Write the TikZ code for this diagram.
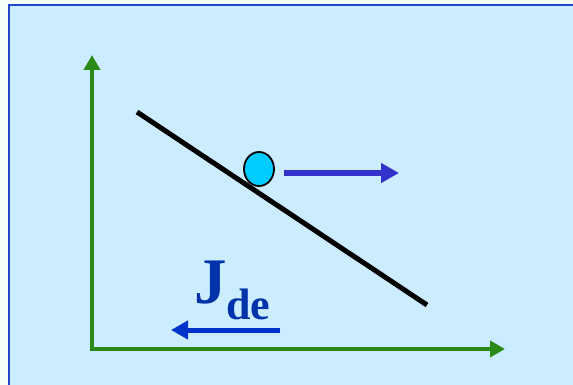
\documentclass[tikz,border=0pt]{standalone}
\usepackage{fontspec}
\setmainfont{Liberation Serif}
\usetikzlibrary{arrows.meta}
\definecolor{outerbg}{RGB}{244,255,246}
\definecolor{panel}{RGB}{204,236,255}
\definecolor{frame}{RGB}{34,68,204}
\definecolor{axisgreen}{RGB}{42,138,22}
\definecolor{ballcyan}{RGB}{0,204,255}
\definecolor{velblue}{RGB}{51,51,204}
\definecolor{fluxblue}{RGB}{0,51,204}
\definecolor{textblue}{RGB}{0,51,170}
\tikzset{
  axisline/.style={draw=axisgreen, line width=4pt, -{Triangle[length=15pt,width=16pt]}},
  slope/.style={draw=black, line width=5pt},
  ball/.style={ellipse, draw=black, line width=1.8pt, fill=ballcyan, minimum width=30pt, minimum height=34pt, inner sep=0pt},
  velarrow/.style={draw=velblue, line width=6pt, -{Triangle[length=18pt,width=19pt]}},
  fluxarrow/.style={draw=fluxblue, line width=5pt, -{Triangle[length=17pt,width=18pt]}},
  lbl/.style={text=textblue, font=\bfseries, inner sep=0pt, anchor=base west}
}
\usetikzlibrary{shapes.geometric}
\begin{document}
\begin{tikzpicture}[x=1pt,y=-1pt]
\useasboundingbox (0,0) rectangle (573,385);
\fill[outerbg] (0,0) rectangle (573,385);
\filldraw[fill=panel, draw=frame, line width=2pt] (9,5) rectangle (580,392);
% axes
\coordinate (origin) at (92,349);
\coordinate (ytip) at (92,55);
\coordinate (xtip) at (505,349);
\draw[axisline] ([yshift=2pt]origin) -- (ytip);
\draw[axisline] ([xshift=-2pt]origin) -- (xtip);
% slope
\coordinate (s1) at (137,112);
\coordinate (s2) at (427,305);
\draw[slope] (s1) -- (s2);
% ball
\node[ball] (b) at (259,169) {};
% velocity arrow
\coordinate (v1) at (284,173);
\coordinate (v2) at (399,173);
\draw[velarrow] (v1) -- (v2);
% flux label and arrow
\node[lbl, font=\bfseries\fontsize{65}{65}\selectfont] (J) at (194,303) {J};
\node[lbl, font=\bfseries\fontsize{44}{44}\selectfont] (de) at (226,319) {de};
\coordinate (f1) at (280,330);
\coordinate (f2) at (171,330);
\draw[fluxarrow] (f1) -- (f2);
\end{tikzpicture}
\end{document}
